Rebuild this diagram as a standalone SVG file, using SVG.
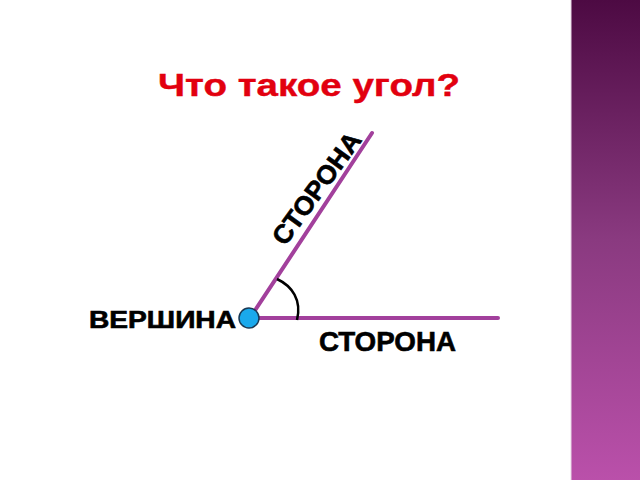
<svg xmlns="http://www.w3.org/2000/svg" width="640" height="480" viewBox="0 0 640 480">
<defs>
<linearGradient id="bar" x1="0" y1="0" x2="0" y2="1">
<stop offset="0" stop-color="#4d0a43"/>
<stop offset="0.5" stop-color="#8a3a80"/>
<stop offset="1" stop-color="#ba50aa"/>
</linearGradient>
<style>
.ray{stroke:#a2409c;stroke-width:4;stroke-linecap:round;fill:none}
.lbl{font-family:"Liberation Sans",Arial,sans-serif;font-weight:bold;fill:#000;stroke:#000;stroke-width:0.6}
</style>
</defs>
<rect x="0" y="0" width="640" height="480" fill="#fff"/>
<rect x="571" y="0" width="69" height="480" fill="url(#bar)"/>
<line x1="571" y1="0" x2="571" y2="480" stroke="#e8d8e6" stroke-width="1"/>
<text x="309" y="96" text-anchor="middle" textLength="302" lengthAdjust="spacingAndGlyphs" font-family="'Liberation Sans',Arial,sans-serif" font-weight="bold" font-size="32" fill="#e2000f" stroke="#e2000f" stroke-width="0.4">Что такое угол?</text>
<g id="connectors">
<line class="ray" x1="250" y1="318" x2="372" y2="133"/>
<line class="ray" x1="250" y1="318" x2="498" y2="318"/>
<path d="M277,279 C292,286 302,300 297,320" fill="none" stroke="#000" stroke-width="2.5"/>
</g>
<g id="vertex">
<circle cx="249" cy="318" r="10" fill="#1aa9ec" stroke="#1a3a55" stroke-width="1.5"/>
</g>
<g id="label-vertex">
<text class="lbl" x="89" y="328" font-size="23" textLength="147" lengthAdjust="spacingAndGlyphs">ВЕРШИНА</text>
</g>
<g id="label-side1">
<text class="lbl" x="319" y="351" font-size="28" textLength="137" lengthAdjust="spacingAndGlyphs">СТОРОНА</text>
</g>
<g id="label-side2">
<text class="lbl" transform="translate(285,247) rotate(-54)" x="0" y="0" font-size="26" textLength="132" lengthAdjust="spacingAndGlyphs">СТОРОНА</text>
</g>
</svg>
